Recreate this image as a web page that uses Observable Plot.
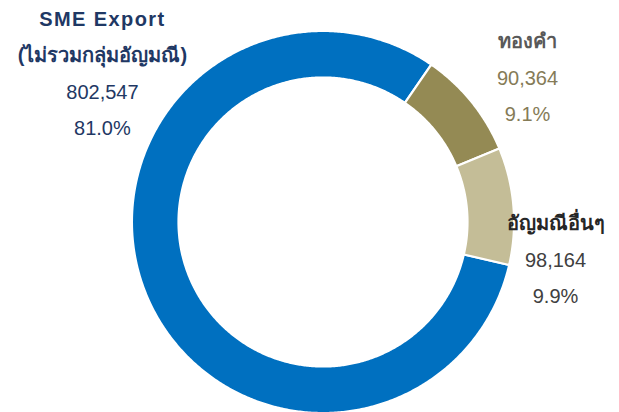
<!DOCTYPE html>
<html><head><meta charset="utf-8">
<script src="https://cdn.jsdelivr.net/npm/d3@7"></script>
<script src="https://cdn.jsdelivr.net/npm/@observablehq/plot@0.6"></script>
<style>
body{margin:0;background:#fff}
#chart{width:619px;height:412px;overflow:hidden}
</style>
</head><body><div id="chart"></div>
<script>
// ---- data ----
const categories = ["SME Export (ไม่รวมกลุ่มอัญมณี)", "ทองคำ", "อัญมณีอื่นๆ"];
const nameLines = [["SME Export", "(ไม่รวมกลุ่มอัญมณี)"], ["ทองคำ"], ["อัญมณีอื่นๆ"]];
const values = [802547, 90364, 98164];

// ---- styles / layout ----
const sliceColors = ["#0070C0", "#948A54", "#C4BD97"];
const nameColors = ["#1F3864", "#595959", "#262626"];
const valueColors = ["#1F3864", "#857B57", "#404040"];
const W = 619, H = 412;
const R = 190.5;                 // px radius
const cx = 322.5, cy = 221.5;     // px centre
const innerFrac = 144.5 / 190.5;
const startDeg = 103;
const labelAnchors = [ {x: -1.158, y: 0.777}, {x: 1.0735, y: 0.753}, {x: 1.2205, y: -0.20} ];
const lineStep = 36.5;

const total = d3.sum(values);
const pie = d3.pie().sort(null).value(d => d)
  .startAngle(startDeg * Math.PI / 180).endAngle(startDeg * Math.PI / 180 + 2 * Math.PI)(values);

// polygon points for each slice, in data units (unit outer radius)
const ringPts = [];
pie.forEach((p, i) => {
  const n = Math.max(4, Math.ceil((p.endAngle - p.startAngle) / (Math.PI / 360)));
  const outer = 1.003, inner = innerFrac;
  for (let k = 0; k <= n; k++) {
    const a = p.startAngle + (p.endAngle - p.startAngle) * k / n;
    ringPts.push({cat: categories[i], i, x: outer * Math.sin(a), y: outer * Math.cos(a)});
  }
  for (let k = n; k >= 0; k--) {
    const a = p.startAngle + (p.endAngle - p.startAngle) * k / n;
    ringPts.push({cat: categories[i], i, x: inner * Math.sin(a), y: inner * Math.cos(a)});
  }
});

// label lines
const textRows = [];
values.forEach((v, i) => {
  const lines = [
    ...nameLines[i].map(t => ({t, kind: "name"})),
    {t: d3.format(",")(v), kind: "value"},
    {t: d3.format(".1%")(v / total), kind: "value"}
  ];
  const n = lines.length;
  lines.forEach((l, j) => {
    textRows.push({
      text: l.t, kind: l.kind, i,
      x: labelAnchors[i].x, y: labelAnchors[i].y,
      dy: (j - (n - 1) / 2) * lineStep,
      color: l.kind === "name" ? nameColors[i] : valueColors[i]
    });
  });
});

const font = "'Liberation Sans', Arial, 'Noto Sans', sans-serif";
const plot = Plot.plot({
  width: W, height: H,
  margin: 0,
  x: {domain: [-cx / R, (W - cx) / R], axis: null},
  y: {domain: [-(H - cy) / R, cy / R], axis: null},
  style: {fontFamily: font, background: "white"},
  marks: [
    Plot.line(ringPts, {
      x: "x", y: "y", z: "cat", curve: "linear-closed",
      fill: d => sliceColors[d.i], stroke: "white", strokeWidth: 2.2
    }),
    ...textRows.map(r => Plot.text([r], {
      x: "x", y: "y", text: "text", dy: r.dy,
      fill: r.color, fontSize: 20,
      fontWeight: r.kind === "name" ? "bold" : "normal",
      textAnchor: "middle", lineAnchor: "middle"
    }))
  ]
});
d3.select(plot).selectAll("text")
  .filter(function() { return this.textContent === "SME Export"; })
  .attr("letter-spacing", "1.4px");
document.getElementById("chart").appendChild(plot);
</script>
</body></html>
